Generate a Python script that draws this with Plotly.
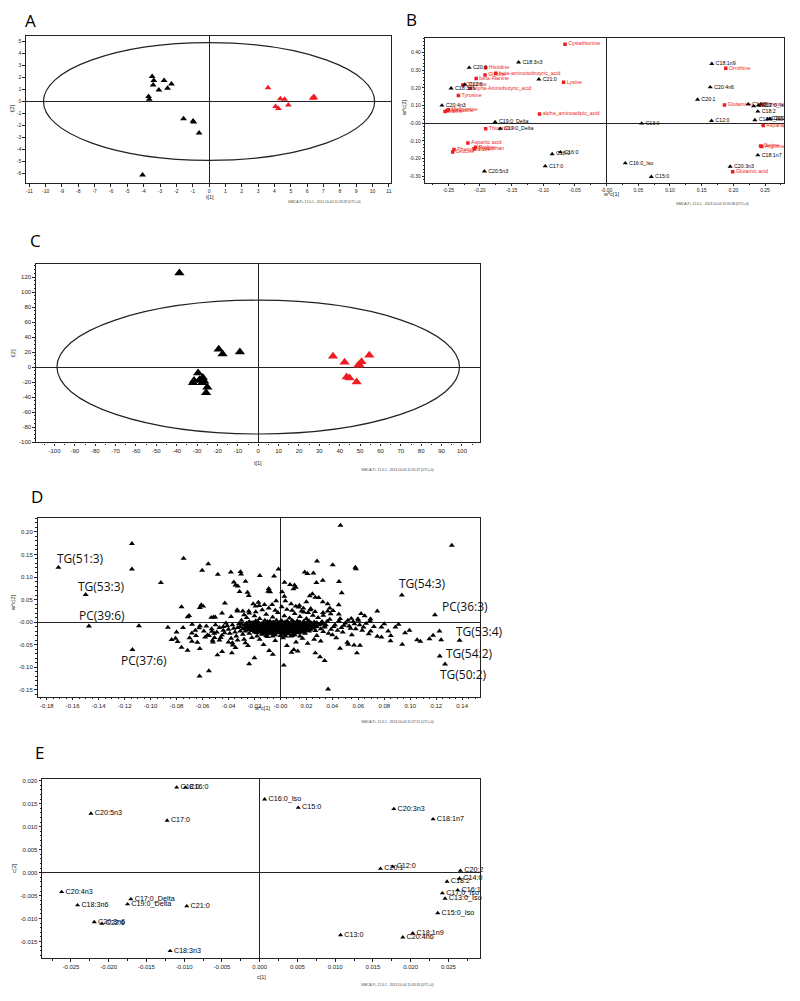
import plotly.graph_objects as go

W, H = 800, 1001
FONT = "Liberation Sans, Arial, sans-serif"
LETTER_FONT = "Open Sans, sans-serif"
RED = "#ee1d23"
INK = "#222222"

# ---------------- Panel A: scores t[1] / t[2] ----------------
A_black_x = [-3.48, -3.38, -3.42, -2.75, -2.30, -2.54, -3.07, -3.70, -3.66, -1.56, -0.98, -0.94, -0.61, -4.07]
A_black_y = [2.08, 1.75, 1.39, 1.75, 1.47, 1.11, 0.97, 0.42, 0.19, -1.44, -1.64, -1.72, -2.63, -6.15]
A_red_x = [3.61, 4.36, 4.62, 4.07, 4.24, 4.85, 6.31, 6.41, 6.47]
A_red_y = [1.16, 0.22, 0.19, -0.42, -0.58, -0.30, 0.28, 0.42, 0.30]
A_ellipse = (10.13, 4.92)
A_xticks = list(range(-11, 12))
A_yticks = list(range(-6, 6))

# ---------------- Panel B: loadings w*c[1] / w*c[2] ----------------
B_fa_names = ["C18:3n3", "C20:0", "C21:0", "C18:3n6", "C22:6", "C20:4n3", "C19:0_Delta", "C17:0_Delta",
              "C20:5n3", "C17:0", "C18:0", "C16:0", "C18:1n9", "C20:4n6", "C20:1", "C14:0", "C16:1",
              "C17:0_Iso", "C18:2", "C13:0_Iso", "C20:2", "C15:0_Iso", "C12:0", "C13:0", "C18:1n7",
              "C16:0_Iso", "C15:0", "C20:3n3"]
B_fa_x = [-0.139, -0.217, -0.107, -0.2455, -0.224, -0.260, -0.176, -0.168,
          -0.193, -0.097, -0.086, -0.073, 0.166, 0.1635, 0.1435, 0.2235, 0.232,
          0.240, 0.2387, 0.234, 0.254, 0.2576, 0.1656, 0.0552, 0.2387,
          0.0294, 0.0705, 0.195]
B_fa_y = [0.344, 0.314, 0.248, 0.197, 0.218, 0.100, 0.006, -0.032,
          -0.273, -0.244, -0.175, -0.165, 0.336, 0.203, 0.133, 0.107, 0.096,
          0.100, 0.066, 0.017, 0.0226, 0.0244, 0.013, -0.002, -0.182,
          -0.227, -0.3045, -0.246]
B_aa_names = ["Cystathionine", "Histidine", "beta-aminoisobutyric_acid", "Glycine", "beta-Alanine", "Lysine",
              "Citrulline", "alpha-Aminobutyric_acid", "Tyrosine", "Valine", "Methionine", "Isoleucine",
              "alpha_aminoadipic_acid", "Thioproline", "Aspartic acid", "Proline", "Tryptophan",
              "Phenylalanine", "Leucine", "Ornithine", "Glutamine", "Threonine", "Asparagine", "Serine",
              "Arginine", "Glutamic acid"]
B_aa_x = [-0.0657, -0.191, -0.175, -0.192, -0.206, -0.068,
          -0.227, -0.2155, -0.234, -0.255, -0.250, -0.252,
          -0.106, -0.191, -0.219, -0.207, -0.209,
          -0.241, -0.243, 0.188, 0.186, 0.245, 0.247, 0.243,
          0.245, 0.199]
B_aa_y = [0.447, 0.314, 0.282, 0.273, 0.252, 0.231,
          0.216, 0.197, 0.156, 0.066, 0.075, 0.070,
          0.051, -0.032, -0.113, -0.137, -0.145,
          -0.150, -0.164, 0.310, 0.103, 0.107, -0.013, -0.130,
          -0.132, -0.276]
B_xticks = [-0.25, -0.20, -0.15, -0.10, -0.05, 0.0, 0.05, 0.10, 0.15, 0.20, 0.25]
B_yticks = [-0.30, -0.20, -0.10, 0.0, 0.10, 0.20, 0.30, 0.40]

# ---------------- Panel C: scores t[1] / t[2] ----------------
C_black_x = [-38.7, -19.4, -17.5, -9.0, -29.5, -31.5, -32.0, -28.8, -27.2, -26.5, -27.5, -25.0, -25.6]
C_black_y = [125.5, 23.7, 17.5, 20.1, -8.0, -18.0, -21.0, -17.0, -14.0, -19.0, -21.0, -27.0, -34.2]
C_red_x = [36.7, 42.4, 54.5, 49.6, 50.7, 49.1, 43.4, 44.8, 48.3]
C_red_y = [14.5, 6.6, 15.8, 3.5, 7.0, 2.6, -13.1, -14.5, -19.7]
C_ellipse = (98.8, 89.2)
C_xticks = list(range(-100, 101, 10))
C_yticks = list(range(-100, 121, 20))

# ---------------- Panel D: loadings of lipids ----------------
D_label_names = ["TG(51:3)", "TG(53:3)", "PC(39:6)", "PC(37:6)", "TG(54:3)", "PC(36:3)", "TG(53:4)", "TG(54:2)", "TG(50:2)"]
D_label_x = [-0.171, -0.150, -0.1475, -0.114, 0.0935, 0.119, 0.138, 0.1227, 0.1268]
D_label_y = [0.121, 0.061, -0.009, -0.061, 0.060, 0.016, -0.0405, -0.075, -0.093]
D_outliers = [
    (-0.1144, 0.174), (-0.1144, 0.1175), (-0.0746, 0.141), (-0.0556, 0.129), (-0.0921, 0.0874),
    (-0.0603, 0.1145), (-0.0482, 0.1057), (-0.0382, 0.1109), (-0.0308, 0.1116), (-0.0303, 0.1065),
    (-0.0269, 0.0903), (-0.0159, 0.1028), (-0.0049, 0.1021), (-0.0015, 0.1175), (0.0462, 0.2144),
    (0.0282, 0.1351), (0.0403, 0.127), (0.0577, 0.1211), (0.0582, 0.1182), (0.0187, 0.1109),
    (0.0208, 0.1072), (0.0254, 0.1087), (0.0451, 0.0896), (0.0326, 0.0925), (0.0277, 0.0874),
    (0.0031, 0.0881), (0.0074, 0.083), (0.0108, 0.0822), (0.0118, 0.0771), (0.0472, 0.0646),
    (-0.0359, 0.0888), (-0.0346, 0.0822), (-0.0328, 0.080), (-0.0315, 0.0675), (-0.0254, 0.0661),
    (-0.0244, 0.0587), (-0.0095, 0.0683), (-0.0079, 0.0668), (-0.009, 0.0742), (0.0013, 0.0668),
    (0.010, 0.0734), (0.0226, 0.058), (0.0246, 0.0624), (0.0269, 0.0551), (0.0295, 0.0543),
    (0.0449, 0.0382), (0.0326, 0.0448), (0.0364, 0.0404), (-0.0762, 0.0338), (-0.0621, 0.0323),
    (-0.0595, 0.0352), (-0.061, 0.0382), (-0.0715, 0.0117), (-0.0703, 0.0147), (-0.0533, 0.0103),
    (-0.0515, 0.011), (-0.0503, 0.011), (-0.0428, 0.0419), (-0.0331, 0.0242), (-0.0333, 0.0272),
    (-0.029, 0.0242), (-0.0244, 0.0242), (-0.021, 0.0404), (-0.0192, 0.0352), (-0.0164, 0.0367),
    (-0.0123, 0.0389), (-0.0064, 0.0389), (-0.0033, 0.047), (0.0038, 0.047), (0.0082, 0.0404),
    (0.0118, 0.0352), (0.0146, 0.0374), (0.0177, 0.0308), (0.0162, 0.0242), (0.0213, 0.0213),
    (0.0233, 0.0301), (0.0267, 0.0235), (0.0328, 0.0213), (0.0364, 0.0242), (0.0387, 0.0184),
    (0.0405, 0.0257), (0.0621, 0.0191), (0.0649, 0.014), (0.0746, 0.0242), (0.0546, 0.0081),
    (0.0597, 0.0073), (-0.109, -0.0081), (-0.0867, -0.0117), (-0.0838, -0.0389), (-0.0808, -0.036),
    (-0.0792, -0.0433), (-0.0762, -0.0558), (-0.0715, -0.0624), (-0.0682, -0.0426), (-0.0682, -0.0242),
    (-0.0656, -0.0184), (-0.0626, -0.0125), (-0.0621, -0.0587), (-0.0562, -0.0286), (-0.0528, -0.0206),
    (-0.0523, -0.0404), (-0.0508, -0.0345), (-0.0485, -0.0727), (-0.0449, -0.0653), (-0.0374, -0.0683),
    (-0.0367, -0.0507), (-0.0346, -0.0565), (-0.0241, -0.0925), (-0.020, -0.0793), (-0.0087, -0.0631),
    (-0.0059, -0.0712), (-0.0623, -0.1197), (-0.0551, -0.1079), (0.0026, -0.0954), (0.0085, -0.0668),
    (0.0103, -0.0609), (0.0133, -0.0639), (0.0269, -0.0683), (0.0305, -0.0771), (0.0341, -0.0852),
    (0.0367, -0.1483), (0.0459, -0.058), (0.0515, -0.0448), (0.0567, -0.0507), (0.0613, -0.0514),
    (0.0695, -0.0198), (0.0746, -0.0316), (0.132, 0.170), (0.0694, 0.0073), (0.0778, -0.011),
    (0.0778, -0.0331), (0.0848, -0.0412), (0.0938, -0.0493), (0.083, -0.0198), (0.0886, -0.011),
    (0.096, -0.0236), (0.0994, -0.0184), (0.1053, -0.039), (0.1078, -0.0426), (0.1148, -0.0368),
    (0.1176, -0.0295), (0.1225, -0.0198), (0.1238, -0.039), (0.0589, -0.0683), (0.0522, -0.0493),
]
D_fringe = [
    (-0.047, -0.012), (-0.044, -0.018), (-0.041, -0.008), (-0.039, -0.025), (-0.036, -0.014),
    (-0.034, -0.031), (-0.032, -0.004), (-0.031, -0.020), (-0.045, -0.029), (-0.049, -0.022),
    (-0.038, -0.036), (-0.029, -0.027), (-0.030, 0.004), (-0.042, -0.002), (-0.053, -0.015),
    (-0.057, -0.009), (-0.055, -0.030), (-0.047, -0.040), (-0.040, -0.044), (-0.033, -0.040),
    (0.031, -0.003), (0.034, -0.011), (0.036, 0.002), (0.039, -0.016), (0.042, -0.006),
    (0.045, 0.003), (0.047, -0.012), (0.050, -0.002), (0.053, -0.009), (0.056, 0.001),
    (0.058, -0.015), (0.061, -0.006), (0.064, -0.011), (0.033, -0.021), (0.028, -0.030),
    (0.026, -0.038), (0.040, -0.028), (0.048, -0.022),
    (-0.026, 0.010), (-0.020, 0.014), (-0.016, 0.008), (-0.011, 0.017), (-0.006, 0.011),
    (-0.002, 0.021), (0.003, 0.014), (0.007, 0.009), (0.011, 0.019), (0.015, 0.012),
    (0.020, 0.008), (0.025, 0.015), (0.029, 0.010), (-0.014, 0.027), (0.005, 0.028),
    (-0.024, 0.020), (0.018, 0.022),
    (-0.022, -0.034), (-0.016, -0.038), (-0.010, -0.032), (-0.004, -0.041), (0.002, -0.035),
    (0.008, -0.031), (0.012, -0.044), (0.017, -0.036), (0.021, -0.047), (-0.027, -0.046),
    (0.005, -0.052), (-0.013, -0.050),
    (-0.062, -0.008), (-0.059, -0.020), (-0.058, -0.033), (-0.051, -0.025), (-0.050, -0.006),
    (-0.046, -0.034), (-0.043, -0.024), (-0.040, -0.016), (-0.037, -0.006), (-0.035, -0.022),
    (-0.044, -0.010), (-0.052, -0.044), (-0.065, -0.030), (-0.068, -0.005), (-0.070, -0.035),
    (-0.075, -0.012), (-0.080, -0.022), (-0.064, -0.045), (-0.037, -0.046), (-0.028, -0.038),
    (-0.025, -0.052), (-0.033, -0.012),
    (0.035, -0.006), (0.038, 0.006), (0.041, -0.010), (0.044, -0.018), (0.046, 0.008),
    (0.049, -0.007), (0.052, 0.004), (0.054, -0.014), (0.057, -0.004), (0.060, 0.004),
    (0.063, -0.018), (0.066, -0.003), (0.069, 0.003), (0.072, -0.010), (0.037, -0.025),
    (0.043, -0.035), (0.031, -0.042), (0.055, -0.028), (0.068, -0.026), (0.080, -0.004),
    (0.085, -0.030), (0.091, -0.005),
    (-0.028, 0.016), (-0.019, 0.023), (-0.009, 0.031), (-0.004, 0.026), (0.001, 0.034),
    (0.009, 0.026), (0.014, 0.033), (0.023, 0.027), (-0.038, 0.012), (-0.045, 0.020),
    (0.033, 0.015), (0.038, 0.031), (0.045, 0.018), (-0.017, 0.044), (0.020, 0.045), (0.003, 0.057),
]
D_core = [
    (-0.019, 0.003), (-0.012, 0.004), (-0.008, 0.002), (-0.003, 0.004), (0.001, 0.003), (0.005, 0.002),
    (0.009, 0.004), (0.013, 0.003), (0.018, 0.002), (0.022, 0.003),
    (-0.026, -0.002), (-0.021, -0.001), (-0.017, -0.003), (-0.013, -0.002), (-0.009, -0.001),
    (-0.005, -0.003), (-0.001, -0.002), (0.003, -0.001), (0.007, -0.003), (0.011, -0.002),
    (0.015, -0.001), (0.019, -0.003), (0.024, -0.002), (0.028, -0.001),
    (-0.028, -0.007), (-0.024, -0.008), (-0.020, -0.006), (-0.016, -0.007), (-0.012, -0.008),
    (-0.008, -0.006), (-0.004, -0.007), (0.000, -0.008), (0.004, -0.006), (0.008, -0.007),
    (0.012, -0.008), (0.016, -0.006), (0.020, -0.007), (0.025, -0.008), (0.030, -0.006),
    (-0.027, -0.012), (-0.023, -0.011), (-0.019, -0.013), (-0.015, -0.012), (-0.011, -0.011),
    (-0.007, -0.013), (-0.003, -0.012), (0.001, -0.011), (0.005, -0.013), (0.009, -0.012),
    (0.013, -0.011), (0.017, -0.013), (0.021, -0.012), (0.026, -0.011),
    (-0.025, -0.017), (-0.021, -0.016), (-0.017, -0.018), (-0.013, -0.017), (-0.009, -0.016),
    (-0.005, -0.018), (-0.001, -0.017), (0.003, -0.016), (0.007, -0.018), (0.011, -0.017),
    (0.015, -0.016), (0.019, -0.018), (0.023, -0.017),
    (-0.020, -0.022), (-0.016, -0.021), (-0.012, -0.023), (-0.008, -0.022), (-0.004, -0.021),
    (0.000, -0.023), (0.004, -0.022), (0.008, -0.021), (0.012, -0.023), (0.016, -0.022),
    (-0.014, -0.027), (-0.009, -0.026), (-0.004, -0.028), (0.002, -0.027), (0.006, -0.026), (0.011, -0.028),
    # second, interleaved layer of the dense cloud
    (-0.024, 0.001), (-0.017, 0.000), (-0.010, 0.001), (-0.005, 0.000), (0.000, 0.001), (0.004, 0.000),
    (0.010, 0.001), (0.015, 0.000), (0.021, 0.001), (0.026, 0.000), (0.032, 0.001),
    (-0.030, -0.004), (-0.023, -0.005), (-0.018, -0.004), (-0.014, -0.005), (-0.010, -0.004),
    (-0.006, -0.005), (-0.002, -0.004), (0.002, -0.005), (0.006, -0.004), (0.010, -0.005),
    (0.014, -0.004), (0.018, -0.005), (0.022, -0.004), (0.027, -0.005), (0.033, -0.004),
    (-0.031, -0.010), (-0.025, -0.009), (-0.021, -0.010), (-0.017, -0.009), (-0.013, -0.010),
    (-0.009, -0.009), (-0.005, -0.010), (-0.001, -0.009), (0.003, -0.010), (0.007, -0.009),
    (0.011, -0.010), (0.015, -0.009), (0.019, -0.010), (0.023, -0.009), (0.028, -0.010), (0.034, -0.009),
    (-0.029, -0.015), (-0.023, -0.014), (-0.019, -0.015), (-0.015, -0.014), (-0.011, -0.015),
    (-0.007, -0.014), (-0.003, -0.015), (0.001, -0.014), (0.005, -0.015), (0.009, -0.014),
    (0.013, -0.015), (0.017, -0.014), (0.021, -0.015), (0.025, -0.014), (0.031, -0.015),
    (-0.027, -0.020), (-0.022, -0.019), (-0.018, -0.020), (-0.014, -0.019), (-0.010, -0.020),
    (-0.006, -0.019), (-0.002, -0.020), (0.002, -0.019), (0.006, -0.020), (0.010, -0.019),
    (0.014, -0.020), (0.018, -0.019), (0.022, -0.020), (0.027, -0.019),
    (-0.024, -0.025), (-0.018, -0.024), (-0.014, -0.025), (-0.010, -0.024), (-0.006, -0.025),
    (-0.002, -0.024), (0.002, -0.025), (0.006, -0.024), (0.010, -0.025), (0.014, -0.024), (0.019, -0.025),
    (-0.018, -0.031), (-0.011, -0.030), (-0.006, -0.031), (0.000, -0.030), (0.004, -0.031),
    (0.009, -0.030), (0.015, -0.031),
    # third layer, the darkest centre of the cloud
    (-0.022, -0.0015), (-0.018, -0.001), (-0.014, -0.002), (-0.010, -0.0015), (-0.006, -0.001),
    (-0.002, -0.002), (0.002, -0.0015), (0.006, -0.001), (0.010, -0.002), (0.014, -0.0015),
    (0.018, -0.001), (0.022, -0.002), (0.026, -0.0015),
    (-0.026, -0.0065), (-0.022, -0.006), (-0.018, -0.007), (-0.014, -0.0065), (-0.010, -0.006),
    (-0.006, -0.007), (-0.002, -0.0065), (0.002, -0.006), (0.006, -0.007), (0.010, -0.0065),
    (0.014, -0.006), (0.018, -0.007), (0.022, -0.0065), (0.027, -0.006),
    (-0.025, -0.0115), (-0.021, -0.011), (-0.017, -0.012), (-0.013, -0.0115), (-0.009, -0.011),
    (-0.005, -0.012), (-0.001, -0.0115), (0.003, -0.011), (0.007, -0.012), (0.011, -0.0115),
    (0.015, -0.011), (0.019, -0.012), (0.024, -0.0115),
    (-0.023, -0.0165), (-0.019, -0.016), (-0.015, -0.017), (-0.011, -0.0165), (-0.007, -0.016),
    (-0.003, -0.017), (0.001, -0.0165), (0.005, -0.016), (0.009, -0.017), (0.013, -0.0165),
    (0.017, -0.016), (0.021, -0.017),
    (-0.018, -0.0215), (-0.014, -0.021), (-0.010, -0.022), (-0.006, -0.0215), (-0.002, -0.021),
    (0.002, -0.022), (0.006, -0.0215), (0.010, -0.021), (0.014, -0.022), (0.018, -0.0215),
]
D_xticks = [-0.18, -0.16, -0.14, -0.12, -0.10, -0.08, -0.06, -0.04, -0.02, 0.0, 0.02, 0.04, 0.06, 0.08, 0.10, 0.12, 0.14]
D_yticks = [-0.15, -0.10, -0.05, 0.0, 0.05, 0.10, 0.15, 0.20]

# ---------------- Panel E: fatty acid loadings c[1] / c[2] ----------------
E_names = ["C18:0", "C16:0", "C20:5n3", "C17:0", "C20:4n3", "C18:3n6", "C17:0_Delta", "C19:0_Delta",
           "C21:0", "C20:3n6", "C22:6", "C18:3n3", "C16:0_Iso", "C15:0", "C20:3n3", "C18:1n7", "C20:1",
           "C12:0", "C20:2", "C14:0", "C18:2", "C16:1", "C17:0_Iso", "C13:0_Iso", "C15:0_Iso", "C13:0",
           "C18:1n9", "C20:4n6"]
E_x = [-0.0110, -0.00983, -0.02235, -0.01226, -0.02623, -0.02412, -0.01706, -0.0175,
       -0.00966, -0.02191, -0.0209, -0.01186, 0.00066, 0.00511, 0.01777, 0.02297, 0.016,
       0.01764, 0.02659, 0.02646, 0.02482, 0.02623, 0.0242, 0.02456, 0.02359, 0.01071,
       0.02028, 0.01896]
E_y = [0.01855, 0.01855, 0.01285, 0.01133, -0.00419, -0.00707, -0.00577, -0.00686,
       -0.00729, -0.01075, -0.01111, -0.01703, 0.01595, 0.01414, 0.01386, 0.01162, 0.00087,
       0.0013, 0.00043, -0.0013, -0.00195, -0.00382, -0.00447, -0.00563, -0.0088, -0.01357,
       -0.0132, -0.01407]
E_xticks = [-0.025, -0.020, -0.015, -0.010, -0.005, 0.0, 0.005, 0.010, 0.015, 0.020, 0.025]
E_yticks = [-0.015, -0.010, -0.005, 0.0, 0.005, 0.010, 0.015, 0.020]

FOOTNOTES = ["SIMCA-P+ 12.0.1 - 2012-10-04 11:28:28 (UTC+0)",
             "SIMCA-P+ 12.0.1 - 2013-10-04 11:30:38 (UTC+0)",
             "SIMCA-P+ 12.0.1 - 2013-10-04 11:35:37 (UTC+0)",
             "SIMCA-P+ 12.0.1 - 2013-10-04 11:37:52 (UTC+0)",
             "SIMCA-P+ 12.0.1 - 2013-10-04 11:43:33 (UTC+0)"]


def fmt(vals, nd, negzero):
    out = []
    for v in vals:
        s = f"{v:.{nd}f}" if nd > 0 else str(int(v))
        if abs(v) < 1e-12:
            s = ("-" if negzero else "") + (f"{0:.{nd}f}" if nd > 0 else "0")
        out.append(s)
    return out


# panel geometry in pixels: (left, top, right, bottom)
panels = [
    dict(key="", box=(26, 34, 391, 182), xr=(-11.2, 11.1), yr=(-6.82, 5.49),
         xt=A_xticks, yt=A_yticks, nd=(0, 0), neg=False, fs=5, xminor=None, yminor=None),
    dict(key="2", box=(426, 35.7, 785, 181.7), xr=(-0.286, 0.280), yr=(-0.338, 0.4845),
         xt=B_xticks, yt=B_yticks, nd=(2, 2), neg=True, fs=5, xminor=0.025, yminor=0.02),
    dict(key="3", box=(36, 263.3, 480.7, 442.7), xr=(-109.1, 108.9), yr=(-100.5, 137.5),
         xt=C_xticks, yt=C_yticks, nd=(0, 0), neg=False, fs=6, xminor=5, yminor=5),
    dict(key="4", box=(37.7, 518.3, 480.7, 698.3), xr=(-0.187, 0.1538), yr=(-0.1652, 0.2313),
         xt=D_xticks, yt=D_yticks, nd=(2, 2), neg=True, fs=6, xminor=0.005, yminor=0.01),
    dict(key="5", box=(42.3, 781.3, 480.7, 961), xr=(-0.0288, 0.0292), yr=(-0.01862, 0.02029),
         xt=E_xticks, yt=E_yticks, nd=(3, 3), neg=False, fs=6, xminor=0.0025, yminor=0.001),
]

fig = go.Figure()
layout = dict(width=W, height=H, margin=dict(l=0, r=0, t=0, b=0), autosize=False,
              paper_bgcolor="white", plot_bgcolor="white", showlegend=False,
              font=dict(family=FONT, color=INK))

for p in panels:
    l, t, r, b = p["box"]
    k = p["key"]
    common = dict(showgrid=False, showline=True, mirror=True, linecolor=INK, linewidth=1.3,
                  zeroline=True, zerolinecolor=INK, zerolinewidth=1.3,
                  ticks="outside", ticklen=2.5, tickwidth=1, tickcolor=INK,
                  tickfont=dict(size=p["fs"], family=FONT, color=INK), tickmode="array")
    xa = dict(common, domain=[l / W, r / W], range=list(p["xr"]), anchor="y" + k,
              tickvals=p["xt"], ticktext=fmt(p["xt"], p["nd"][0], p["neg"]))
    ya = dict(common, domain=[1 - b / H, 1 - t / H], range=list(p["yr"]), anchor="x" + k,
              tickvals=p["yt"], ticktext=fmt(p["yt"], p["nd"][1], p["neg"]))
    if p["xminor"]:
        xa["minor"] = dict(ticks="outside", ticklen=1.3, tickwidth=0.8, tickcolor=INK,
                           tickmode="linear", tick0=0, dtick=p["xminor"], showgrid=False)
    if p["yminor"]:
        ya["minor"] = dict(ticks="outside", ticklen=1.3, tickwidth=0.8, tickcolor=INK,
                           tickmode="linear", tick0=0, dtick=p["yminor"], showgrid=False)
    layout["xaxis" + k] = xa
    layout["yaxis" + k] = ya

tri = "triangle-up"

# Panel A
fig.add_trace(go.Scatter(x=A_black_x, y=A_black_y, mode="markers", xaxis="x", yaxis="y",
                         marker=dict(symbol=tri, size=6, color="black")))
fig.add_trace(go.Scatter(x=A_red_x, y=A_red_y, mode="markers", xaxis="x", yaxis="y",
                         marker=dict(symbol=tri, size=6, color=RED)))
# Panel B
fig.add_trace(go.Scatter(x=B_aa_x, y=B_aa_y, mode="markers+text", xaxis="x2", yaxis="y2",
                         text=B_aa_names, textposition="middle right",
                         textfont=dict(size=5.3, color=RED, family=FONT),
                         marker=dict(symbol="square", size=3.5, color=RED)))
fig.add_trace(go.Scatter(x=B_fa_x, y=B_fa_y, mode="markers+text", xaxis="x2", yaxis="y2",
                         text=B_fa_names, textposition="middle right",
                         textfont=dict(size=5.3, color="black", family=FONT),
                         marker=dict(symbol=tri, size=4.5, color="black")))
# Panel C
fig.add_trace(go.Scatter(x=C_black_x, y=C_black_y, mode="markers", xaxis="x3", yaxis="y3",
                         marker=dict(symbol=tri, size=9, color="black")))
fig.add_trace(go.Scatter(x=C_red_x, y=C_red_y, mode="markers", xaxis="x3", yaxis="y3",
                         marker=dict(symbol=tri, size=9, color=RED)))
# Panel D
d_pts = D_outliers + D_fringe + D_core
fig.add_trace(go.Scatter(x=[q[0] for q in d_pts] + D_label_x, y=[q[1] for q in d_pts] + D_label_y,
                         mode="markers", xaxis="x4", yaxis="y4",
                         marker=dict(symbol=tri, size=5.3, color="black")))
# Panel E
fig.add_trace(go.Scatter(x=E_x, y=E_y, mode="markers+text", xaxis="x5", yaxis="y5",
                         text=E_names, textposition="middle right", cliponaxis=False,
                         textfont=dict(size=7.2, color="#000000", family=FONT),
                         marker=dict(symbol=tri, size=4.5, color="black")))

shapes = []
for (a, bb), k in [(A_ellipse, ""), (C_ellipse, "3")]:
    shapes.append(dict(type="circle", xref="x" + k, yref="y" + k, x0=-a, x1=a, y0=-bb, y1=bb,
                       line=dict(color=INK, width=1.2)))
layout["shapes"] = shapes

ann = []
# panel letters
for letter, (px, py) in zip("ABCDE", [(31, 19), (412, 18), (36, 240), (37, 497), (40, 754)]):
    ann.append(dict(text=letter, x=px / W, y=1 - py / H, xref="paper", yref="paper",
                    xanchor="center", yanchor="middle", showarrow=False,
                    font=dict(size=17, family=LETTER_FONT, color="black")))
# axis titles
for txt, (px, py), rot in [("t[1]", (210, 196), 0), ("t[2]", (12, 107), -90),
                           ("w*c[1]", (612, 193), 0), ("w*c[2]", (405, 106), -90),
                           ("t[1]", (258, 463), 0), ("t[2]", (13, 353), -90),
                           ("w*c[1]", (262, 710), 0), ("w*c[2]", (13, 604), -90),
                           ("c[1]", (262, 980), 0), ("c[2]", (14, 870), -90)]:
    ann.append(dict(text=txt, x=px / W, y=1 - py / H, xref="paper", yref="paper",
                    xanchor="center", yanchor="middle", showarrow=False, textangle=rot,
                    font=dict(size=5.5, family=FONT, color=INK)))
# footnotes
for txt, (px, py) in zip(FOOTNOTES, [(325, 201), (713, 203), (398, 470), (398, 724), (398, 988)]):
    ann.append(dict(text=txt, x=px / W, y=1 - py / H, xref="paper", yref="paper",
                    xanchor="center", yanchor="middle", showarrow=False,
                    font=dict(size=3.3, family=FONT, color="#444444")))
# lipid labels in D
D_shifts = [(-3, 9), (-10, 8), (-12, 11), (-13, -11), (-5, 12), (5, 8), (-6, 9), (4, 3), (-7, -10)]
for name, x, y, (dx, dy) in zip(D_label_names, D_label_x, D_label_y, D_shifts):
    ann.append(dict(text=name, x=x, y=y, xref="x4", yref="y4", xanchor="left", yanchor="middle",
                    xshift=dx, yshift=dy, showarrow=False,
                    font=dict(size=12, family=LETTER_FONT, color="#111111")))
layout["annotations"] = ann

fig.update_layout(**layout)
fig.write_html("out.html", config={"displayModeBar": False},
               post_script="document.body.style.margin='0';")
